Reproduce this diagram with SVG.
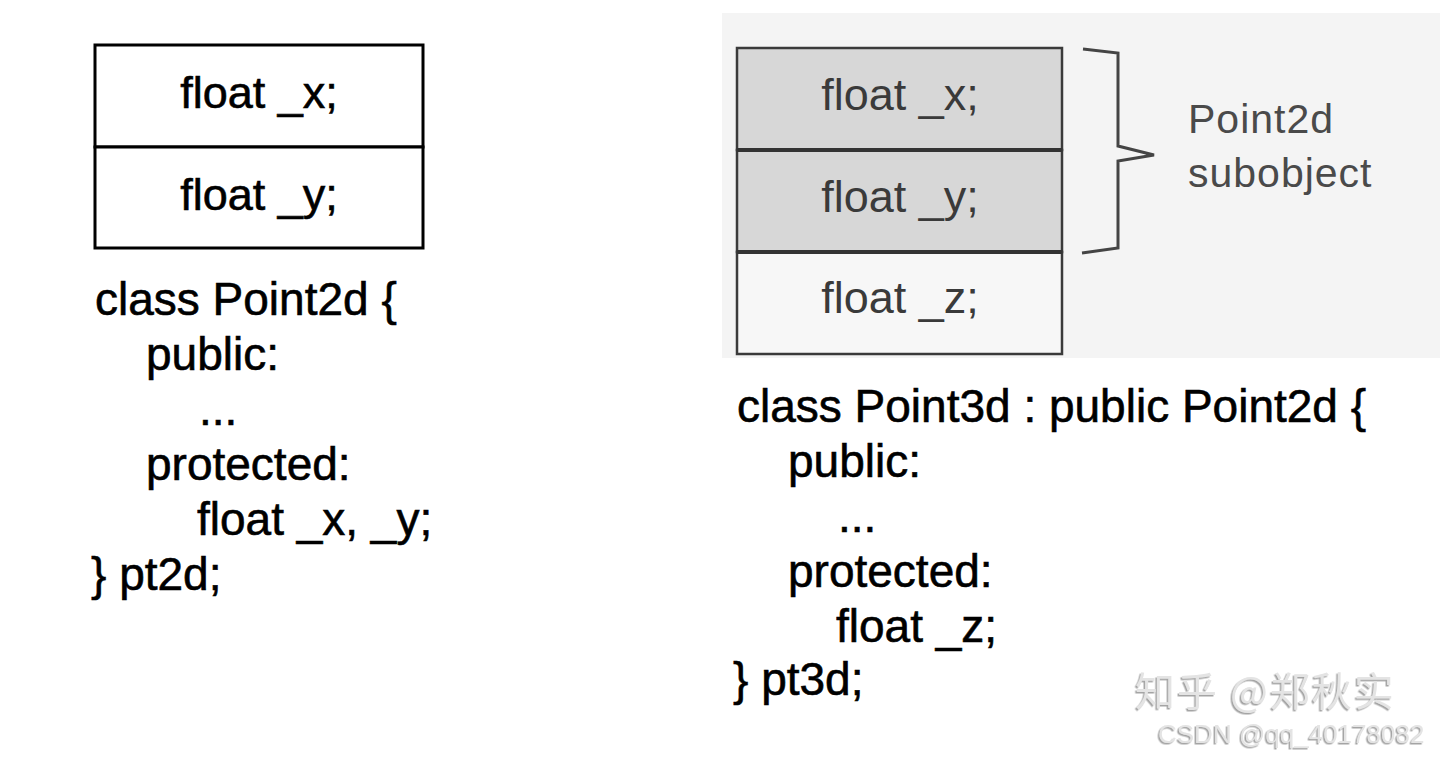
<svg xmlns="http://www.w3.org/2000/svg" width="1440" height="757" viewBox="0 0 1440 757">
  <defs>
    <style>
      .t { font-family: "Liberation Sans", Arial, sans-serif; }
      .lbox { fill: #ffffff; stroke: #000; stroke-width: 3; }
      .ltxt { font-size: 45px; fill: #000; stroke: #000; stroke-width: 0.6; text-anchor: middle; }
      .code { font-size: 46px; fill: #000; stroke: #000; stroke-width: 0.6; }
      .rbox { stroke: #3a3a3a; stroke-width: 2.5; }
      .shade { fill: #d7d7d7; }
      .plain { fill: #f7f7f7; }
      .rtxt { font-size: 45px; fill: #3a3a3a; text-anchor: middle; }
      .note { font-size: 41px; fill: #4a4a4a; letter-spacing: 1px; }
      .brace { fill: none; stroke: #444; stroke-width: 3; stroke-linejoin: miter; }
      .wm { fill: #e4e4e4; filter: url(#emb); }
    </style>
    <filter id="emb" x="-5%" y="-20%" width="110%" height="140%">
      <feDropShadow dx="-1.5" dy="1.5" stdDeviation="0.6" flood-color="#9a9a9a" flood-opacity="0.9"/>
    </filter>
  </defs>
  <rect x="0" y="0" width="1440" height="757" fill="#ffffff"/>

  <!-- Left: Point2d layout -->
  <g id="pt2d-x">
    <rect class="lbox" x="95" y="45" width="328" height="102"/>
    <text class="t ltxt" x="259" y="108">float _x;</text>
  </g>
  <g id="pt2d-y">
    <rect class="lbox" x="95" y="147" width="328" height="101"/>
    <text class="t ltxt" x="259" y="210">float _y;</text>
  </g>
  <g id="code-point2d">
    <text class="t code" x="95" y="315">class Point2d {</text>
    <text class="t code" x="146" y="370">public:</text>
    <text class="t code" x="199" y="425">...</text>
    <text class="t code" x="146" y="480">protected:</text>
    <text class="t code" x="197" y="535">float _x, _y;</text>
    <text class="t code" x="91" y="590">} pt2d;</text>
  </g>

  <!-- Right: Point3d layout -->
  <rect x="722" y="13" width="718" height="345" fill="#f4f4f4"/>
  <g id="pt3d-x">
    <rect class="rbox shade" x="737" y="48" width="325" height="102"/>
    <text class="t rtxt" x="900" y="110">float _x;</text>
  </g>
  <g id="pt3d-y">
    <rect class="rbox shade" x="737" y="150" width="325" height="102"/>
    <text class="t rtxt" x="900" y="212">float _y;</text>
  </g>
  <g id="pt3d-z">
    <rect class="rbox plain" x="737" y="252" width="325" height="102"/>
    <text class="t rtxt" x="900" y="313">float _z;</text>
  </g>
  <line x1="737" y1="150" x2="1062" y2="150" stroke="#333" stroke-width="4"/>
  <line x1="737" y1="252" x2="1062" y2="252" stroke="#333" stroke-width="4"/>

  <g id="connectors">
    <path class="brace" d="M1083,49 L1118,53 L1118,146 L1154,155 L1118,161 L1118,248 L1082,253"/>
  </g>
  <g id="subobject-label">
    <text class="t note" x="1188" y="133">Point2d</text>
    <text class="t note" x="1188" y="187">subobject</text>
  </g>

  <g id="code-point3d">
    <text class="t code" x="737" y="422">class Point3d : public Point2d {</text>
    <text class="t code" x="788" y="477">public:</text>
    <text class="t code" x="838" y="532">...</text>
    <text class="t code" x="788" y="587">protected:</text>
    <text class="t code" x="836" y="642">float _z;</text>
    <text class="t code" x="733" y="695">} pt3d;</text>
  </g>

  <g id="watermark">
    <text class="wm" x="1135" y="706" font-family="'Noto Sans CJK SC', sans-serif" font-size="40" letter-spacing="2">知乎 @郑秋实</text>
    <text class="wm t" x="1158" y="743" font-size="26">CSDN @qq_40178082</text>
  </g>
</svg>
